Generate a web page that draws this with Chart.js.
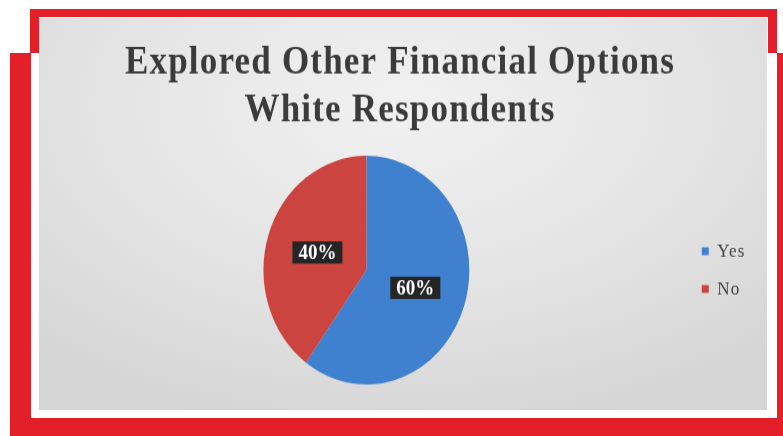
<!DOCTYPE html>
<html>
<head>
<meta charset="utf-8">
<title>Explored Other Financial Options</title>
<script src="https://cdn.jsdelivr.net/npm/chart.js@4.4.1/dist/chart.umd.min.js"></script>
<style>
  html, body { margin: 0; padding: 0; background: #fff; }
  body { width: 783px; height: 436px; position: relative; overflow: hidden; }
  .blk { position: absolute; }
  /* two overlapping red frames with a white gap round the grey panel */
  #redLow   { left: 10px; top: 53px; width: 773px; height: 383px; background: #e3202a; }
  #redTop   { left: 30px; top: 9px;  width: 747px; height: 60px;  background: #e3202a; }
  #whiteTop { left: 39px; top: 17px; width: 729px; height: 100px; background: #fff; }
  #whiteLow { left: 31px; top: 53px; width: 746px; height: 365px; background: #fff; }
  #panel {
    left: 39px; top: 18px; width: 728px; height: 392px;
    background: radial-gradient(ellipse 75% 85% at 50% 22%, #f1f1f1 0%, #e4e4e4 55%, #d5d5d5 100%);
  }
  #chart { position: absolute; left: 39px; top: 18px; }
</style>
</head>
<body>
<div class="blk" id="redLow"></div>
<div class="blk" id="redTop"></div>
<div class="blk" id="whiteTop"></div>
<div class="blk" id="whiteLow"></div>
<div class="blk" id="panel"></div>
<!-- drawn at 353px tall and shown at 392px, so everything is a little stretched -->
<canvas id="chart" width="728" height="353" style="width:728px;height:392px"></canvas>

<script>
const categories = ["Yes", "No"];
const shares = [60, 40];
const sliceColors = ["#3f80cf", "#cc4440"];
const titleLines = ["Explored Other Financial Options", "White Respondents"];

// a bit of tracking so the serif text is as wide as the original font
const wideText = {
  id: "wideText",
  beforeDraw(chart) {
    chart.ctx.letterSpacing = "1.2px";
  }
};

// dark boxes with the percentage in the middle of each slice
const boxLabels = {
  id: "boxLabels",
  afterDatasetsDraw(chart) {
    const ctx = chart.ctx;
    const meta = chart.getDatasetMeta(0);
    ctx.save();
    ctx.letterSpacing = "0px";
    ctx.font = 'bold 19px "Liberation Serif"';
    ctx.textAlign = "center";
    ctx.textBaseline = "middle";
    meta.data.forEach((arc, i) => {
      const p = arc.getCenterPoint();
      const txt = shares[i] + "%";
      const w = ctx.measureText(txt).width + 12;
      const h = 20;
      ctx.fillStyle = "#252525";
      ctx.fillRect(p.x - w / 2, p.y - h / 2, w, h);
      ctx.fillStyle = "#ffffff";
      ctx.fillText(txt, p.x, p.y + 1);
    });
    ctx.restore();
  }
};

window.addEventListener("load", function () {
  const ctx = document.getElementById("chart");
  new Chart(ctx, {
    type: "pie",
    data: {
      labels: categories,
      datasets: [{
        data: shares,
        backgroundColor: sliceColors,
        borderWidth: 0
      }]
    },
    options: {
      responsive: false,
      animation: false,
      layout: { padding: { left: 9, right: 15, top: 0, bottom: 23 } },
      plugins: {
        title: {
          display: true,
          text: titleLines,
          color: "#3b3b3b",
          font: { family: "Liberation Serif", size: 35, weight: "bold", lineHeight: 1.23 },
          padding: { top: 19, bottom: 19 }
        },
        legend: {
          position: "right",
          fullSize: false,
          labels: {
            boxWidth: 7,
            boxHeight: 7,
            padding: 17,
            color: "#404040",
            font: { family: "Liberation Serif", size: 17 }
          }
        },
        tooltip: { enabled: false }
      }
    },
    plugins: [wideText, boxLabels]
  });
});
</script>
</body>
</html>
